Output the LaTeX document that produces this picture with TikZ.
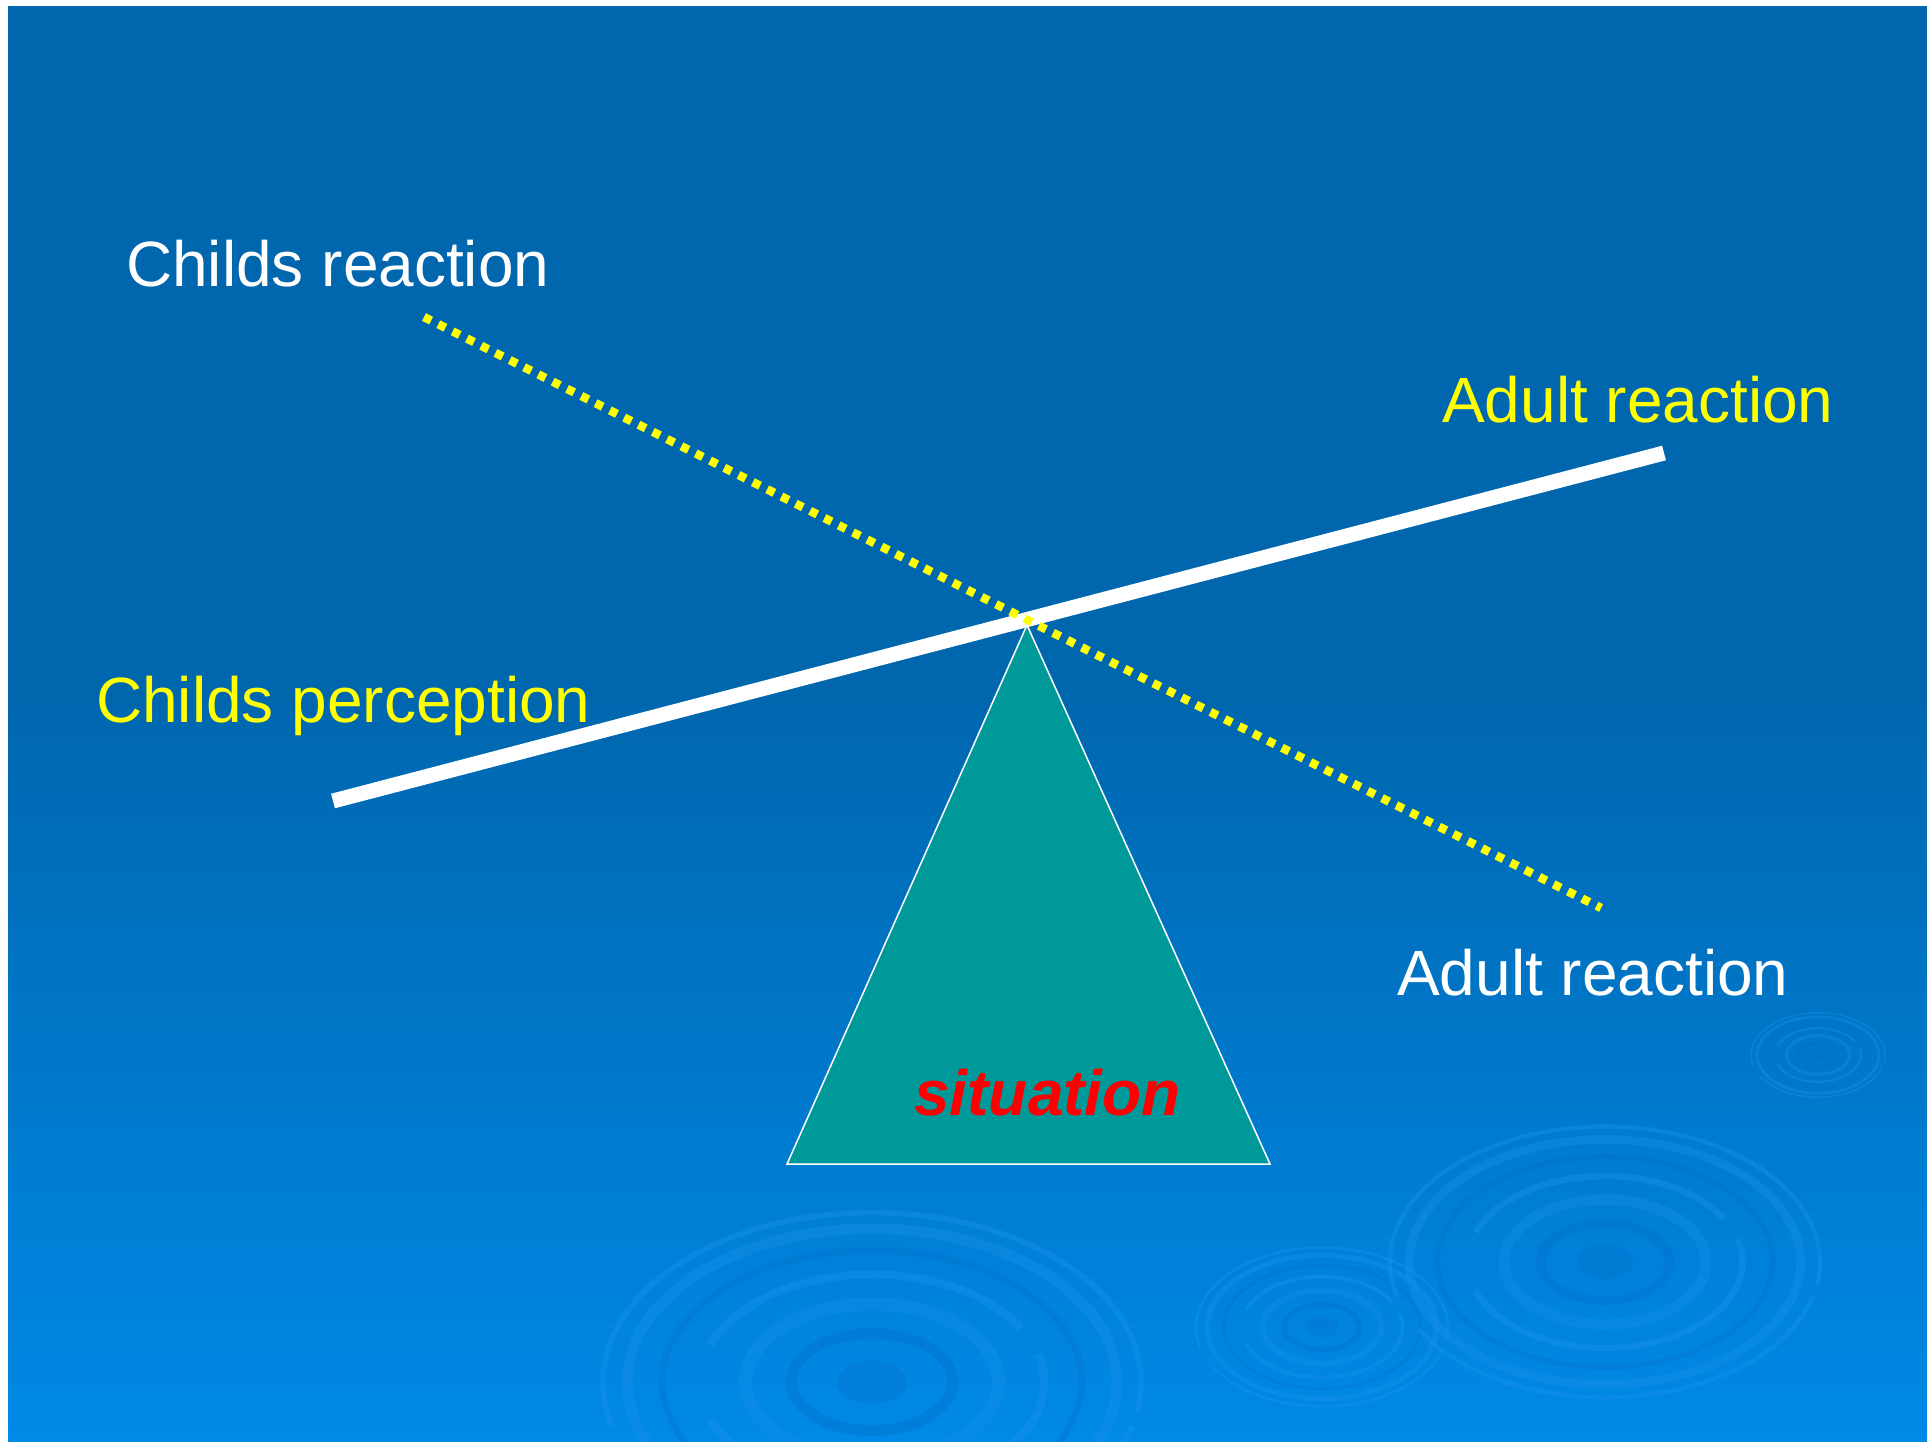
\documentclass[tikz,border=0pt]{standalone}
\usepackage{fontspec}
\setmainfont{Liberation Sans}
\definecolor{bgtop}{RGB}{0,103,175}
\definecolor{bgbot}{RGB}{0,137,230}
\definecolor{teal}{RGB}{0,153,153}
\definecolor{ripL}{RGB}{25,145,235}
\definecolor{ripD}{RGB}{0,110,200}
\definecolor{yel}{RGB}{255,255,0}
\newcommand\myripple[3]{%
\begin{scope}[shift={(#1,#2)},scale=#3]
 \draw[ripL,opacity=.45,line width={#3*2pt}] (15:100 and 63) arc[start angle=15,end angle=150,x radius=100,y radius=63];
 \draw[ripL,opacity=.45,line width={#3*2pt}] (165:100 and 63) arc[start angle=165,end angle=370,x radius=100,y radius=63];
 \draw[ripL,opacity=.4,line width={#3*4pt}] (0,0) ellipse[x radius=91,y radius=57];
 \draw[ripD,opacity=.3,line width={#3*2.5pt}] (0,0) ellipse[x radius=78,y radius=49];
 \draw[ripL,opacity=.45,line width={#3*3pt}] (200:64 and 40) arc[start angle=200,end angle=330,x radius=64,y radius=40];
 \draw[ripL,opacity=.45,line width={#3*3pt}] (345:64 and 40) arc[start angle=345,end angle=520,x radius=64,y radius=40];
 \draw[ripL,opacity=.35,line width={#3*5pt}] (0,0) ellipse[x radius=47,y radius=29];
 \draw[ripD,opacity=.35,line width={#3*4pt}] (0,0) ellipse[x radius=30,y radius=18];
 \fill[ripD,opacity=.3] (0,0) ellipse[x radius=13,y radius=8];
\end{scope}}
\begin{document}
\begin{tikzpicture}[x=1pt,y=-1pt,
  lbl/.style={font=\fontsize{64}{77}\selectfont, inner sep=0pt, anchor=base west},
  beam/.style={white, line width=15pt},
  dotline/.style={yel, line width=8.5pt, dash pattern=on 8pt off 8pt},
  tri/.style={fill=teal, draw=white, line width=1.5pt}]
\useasboundingbox (0,0) rectangle (1927,1442);
\fill[white] (0,0) rectangle (1927,1442);
\fill[bgtop] (8,6) rectangle (1927,701);
\shade[top color=bgtop, bottom color=bgbot] (8,700) rectangle (1927,1442);
% ripples
\myripple{872}{1382}{2.69}
\myripple{1322}{1327}{1.26}
\myripple{1605}{1262}{2.15}
\myripple{1818}{1055}{0.67}
% triangle
\coordinate (apex) at (1027,625);
\coordinate (bl) at (787,1164);
\coordinate (br) at (1270,1164);
\draw[tri] (apex) -- (br) -- (bl) -- cycle;
\node[lbl, text=red, font=\fontsize{64}{77}\selectfont\bfseries\itshape] (sit) at (914,1115) {situation};
% lines
\coordinate (pl) at (333,801);
\coordinate (pr) at (1664,453);
\draw[beam] (pl) -- (pr);
\coordinate (cl) at (424,317);
\coordinate (cr) at (1601,908);
\draw[dotline] (cl) -- (cr);
% labels
\node[lbl, text=white] (chr) at (126,286) {Childs reaction};
\node[lbl, text=yel] (adr1) at (1442,422) {Adult reaction};
\node[lbl, text=yel] (chp) at (96,722) {Childs perception};
\node[lbl, text=white] (adr2) at (1397,995) {Adult reaction};
\end{tikzpicture}
\end{document}
